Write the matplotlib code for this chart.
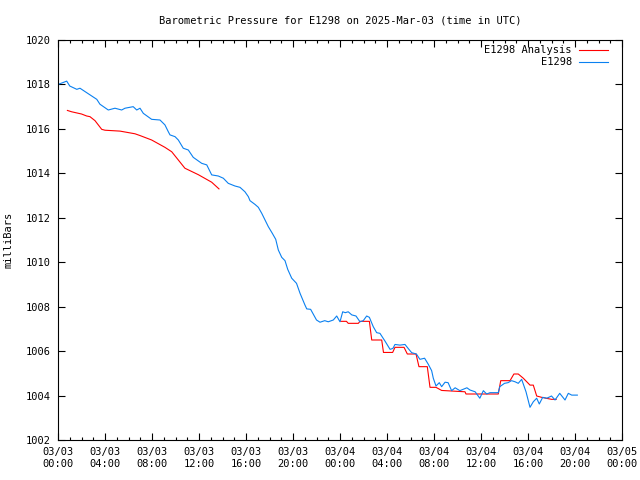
import datetime as dt
import numpy as np
import matplotlib
matplotlib.use("Agg")
import matplotlib.pyplot as plt
import matplotlib.dates as mdates

start = dt.datetime(2025, 3, 3, 0, 0)

# observed pressure (hours since start, mb)
obs_hours = [0, 0.5, 0.74, 1.0, 1.6, 1.87, 2.44, 2.87, 3.3, 3.57,
             4.28, 4.85, 5.42, 5.7, 6.4, 6.7, 6.98, 7.26, 7.97, 8.68,
             9.1, 9.39, 9.53, 9.96, 10.24, 10.66, 11.09, 11.51, 12.23, 12.66,
             13.08, 13.64, 14.07, 14.49, 15.06, 15.49, 15.91, 16.2, 16.34, 16.77,
             17.05, 17.34, 17.62, 17.9, 18.24, 18.53, 18.75, 19.04, 19.32, 19.55,
             19.89, 20.3, 20.6, 21.02, 21.17, 21.5, 22.0, 22.3, 22.7, 23.0,
             23.43, 23.72, 24.0, 24.23, 24.45, 24.7, 25.0, 25.36, 25.7, 25.98,
             26.27, 26.5, 26.83, 27.12, 27.4, 27.83, 28.26, 28.5, 28.68, 29.1,
             29.53, 29.8, 30.1, 30.5, 30.8, 31.2, 31.5, 31.8, 31.94, 32.17,
             32.45, 32.65, 32.94, 33.2, 33.5, 33.8, 34.2, 34.8, 35.06, 35.5,
             35.9, 36.2, 36.48, 36.77, 37.47, 37.6, 38.0, 38.3, 38.6, 38.9,
             39.17, 39.46, 39.83, 40.17, 40.45, 40.74, 40.96, 41.25, 41.6, 42.0,
             42.3, 42.7, 43.15, 43.43, 43.72, 44.2]
obs_mb = [1018.0, 1018.1, 1018.15, 1017.93, 1017.78, 1017.83, 1017.63, 1017.48, 1017.33, 1017.11,
          1016.85, 1016.93, 1016.85, 1016.93, 1017.0, 1016.85, 1016.93, 1016.7, 1016.43, 1016.4,
          1016.18, 1015.87, 1015.73, 1015.65, 1015.5, 1015.13, 1015.05, 1014.72, 1014.45, 1014.38,
          1013.93, 1013.88, 1013.78, 1013.55, 1013.43, 1013.37, 1013.17, 1012.95, 1012.77, 1012.6,
          1012.47, 1012.2, 1011.9, 1011.6, 1011.3, 1011.03, 1010.55, 1010.22, 1010.07, 1009.68,
          1009.28, 1009.05, 1008.6, 1008.07, 1007.9, 1007.88, 1007.4, 1007.3, 1007.37, 1007.32,
          1007.4, 1007.58, 1007.32, 1007.77, 1007.73, 1007.77, 1007.63, 1007.58, 1007.32, 1007.37,
          1007.58, 1007.52, 1007.1, 1006.83, 1006.8, 1006.45, 1006.08, 1006.12, 1006.3, 1006.27,
          1006.3, 1006.12, 1005.93, 1005.87, 1005.63, 1005.68, 1005.42, 1005.12, 1004.78, 1004.43,
          1004.58, 1004.4, 1004.6, 1004.58, 1004.22, 1004.35, 1004.22, 1004.35, 1004.25, 1004.17,
          1003.88, 1004.22, 1004.07, 1004.13, 1004.13, 1004.4, 1004.55, 1004.58, 1004.67, 1004.62,
          1004.55, 1004.73, 1004.17, 1003.47, 1003.72, 1003.88, 1003.62, 1003.92, 1003.88, 1003.98,
          1003.8, 1004.1, 1003.8, 1004.1, 1004.02, 1004.02]

# analysis pressure (NaN = gap)
ana_hours = [0.8, 1.16, 2.0, 2.44, 2.72, 3.15, 3.72, 4.0, 5.28, 6.55,
             6.98, 7.97, 9.1, 9.68, 10.24, 10.8, 11.94, 13.08, 13.7, 18.0,
             24.06, 24.55, 24.7, 25.56, 25.7, 26.5, 26.7, 27.55, 27.7, 28.48,
             28.68, 29.45, 29.73, 30.47, 30.72, 31.43, 31.66, 32.17, 32.65, 34.64,
             34.72, 37.47, 37.68, 38.47, 38.8, 39.17, 39.6, 40.17, 40.45, 40.74,
             41.16, 42.0, 42.4]
ana_mb = [1016.83, 1016.77, 1016.67, 1016.58, 1016.55, 1016.37, 1015.98, 1015.94, 1015.9, 1015.78,
          1015.7, 1015.5, 1015.17, 1014.97, 1014.6, 1014.23, 1013.94, 1013.6, 1013.3, np.nan,
          1007.34, 1007.34, 1007.25, 1007.25, 1007.34, 1007.34, 1006.5, 1006.5, 1005.94, 1005.94,
          1006.17, 1006.17, 1005.87, 1005.87, 1005.3, 1005.3, 1004.37, 1004.37, 1004.23, 1004.17,
          1004.07, 1004.07, 1004.67, 1004.67, 1004.97, 1004.97, 1004.78, 1004.47, 1004.47, 1003.98,
          1003.92, 1003.83, 1003.83]

obs_t = [start + dt.timedelta(hours=h) for h in obs_hours]
ana_t = [start + dt.timedelta(hours=h) for h in ana_hours]

plt.rcParams['font.family'] = 'DejaVu Sans Mono'
plt.rcParams['font.size'] = 7.5

fig = plt.figure(figsize=(6.4, 4.8), dpi=100)
ax = fig.add_axes([58 / 640, 40 / 480, 564 / 640, 400 / 480])

ax.plot(ana_t, ana_mb, color='#ff0000', lw=0.8, label='E1298 Analysis')
ax.plot(obs_t, obs_mb, color='#0a80f0', lw=0.8, label='E1298')

ax.set_xlim(start, start + dt.timedelta(hours=48))
ax.set_ylim(1002, 1020)
ax.set_yticks(np.arange(1002, 1021, 2))
ax.xaxis.set_major_locator(mdates.HourLocator(byhour=range(0, 24, 4)))
ax.xaxis.set_minor_locator(mdates.HourLocator())
ax.xaxis.set_major_formatter(mdates.DateFormatter('%m/%d\n%H:%M'))

ax.tick_params(which='both', direction='in', top=True, right=True, width=0.8)
ax.tick_params(which='major', length=5, pad=5)
ax.tick_params(which='minor', length=2.5)
for s in ax.spines.values():
    s.set_linewidth(0.8)

ax.set_title('Barometric Pressure for E1298 on 2025-Mar-03 (time in UTC)', fontsize=7.5, pad=12)
ax.set_ylabel('milliBars', labelpad=9)

ax.legend(loc='upper right', frameon=False, markerfirst=False, handlelength=2.8,
          borderaxespad=0.1, borderpad=0.4, labelspacing=0.2, handletextpad=0.7,
          bbox_to_anchor=(0.985, 1.0))

fig.savefig('out.png', dpi=100)
